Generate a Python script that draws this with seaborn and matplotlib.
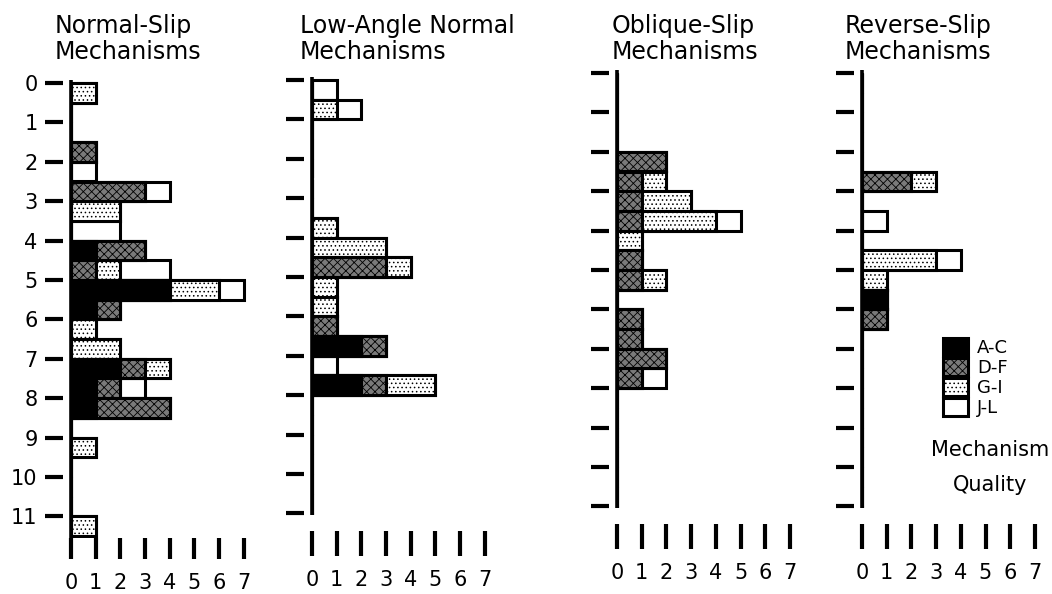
import numpy as np
import pandas as pd
import seaborn as sns
import matplotlib.pyplot as plt
from matplotlib.patches import Patch

sns.set_style("white")
plt.rcParams["font.family"] = ["DejaVu Sans"]
plt.rcParams["hatch.linewidth"] = 0.6
for k in ["text.color", "axes.labelcolor", "xtick.color", "ytick.color"]:
    plt.rcParams[k] = "black"

# depth bins are 0.5 km wide, value = top of bin (km)
# counts per mechanism quality: A-C, D-F, G-I, J-L

# normal-slip
nm_depth = [0.0, 1.5, 2.0, 2.5, 3.0, 3.5, 4.0, 4.5, 5.0, 5.5, 6.0, 6.5, 7.0, 7.5, 8.0, 9.0, 11.0]
nm_ac = [0, 0, 0, 0, 0, 0, 1, 0, 4, 1, 0, 0, 2, 1, 1, 0, 0]
nm_df = [0, 1, 0, 3, 0, 0, 2, 1, 0, 1, 0, 0, 1, 1, 3, 0, 0]
nm_gi = [1, 0, 0, 0, 2, 0, 0, 1, 2, 0, 1, 2, 1, 0, 0, 1, 1]
nm_jl = [0, 0, 1, 1, 0, 2, 0, 2, 1, 0, 0, 0, 0, 1, 0, 0, 0]

# low-angle normal
la_depth = [0.0, 0.5, 3.5, 4.0, 4.5, 5.0, 5.5, 6.0, 6.5, 7.0, 7.5]
la_ac = [0, 0, 0, 0, 0, 0, 0, 0, 2, 0, 2]
la_df = [0, 0, 0, 0, 3, 0, 0, 1, 1, 0, 1]
la_gi = [0, 1, 1, 3, 1, 1, 1, 0, 0, 0, 2]
la_jl = [1, 1, 0, 0, 0, 0, 0, 0, 0, 1, 0]

# oblique-slip
ob_depth = [2.0, 2.5, 3.0, 3.5, 4.0, 4.5, 5.0, 6.0, 6.5, 7.0, 7.5]
ob_ac = [0, 0, 0, 0, 0, 0, 0, 0, 0, 0, 0]
ob_df = [2, 1, 1, 1, 0, 1, 1, 1, 1, 2, 1]
ob_gi = [0, 1, 2, 3, 1, 0, 1, 0, 0, 0, 0]
ob_jl = [0, 0, 0, 1, 0, 0, 0, 0, 0, 0, 1]

# reverse-slip
rv_depth = [2.5, 3.5, 4.5, 5.0, 5.5, 6.0]
rv_ac = [0, 0, 0, 0, 1, 0]
rv_df = [2, 0, 0, 0, 0, 1]
rv_gi = [1, 0, 3, 1, 0, 0]
rv_jl = [0, 1, 1, 0, 0, 0]

titles = ["Normal-Slip\nMechanisms", "Low-Angle Normal\nMechanisms",
          "Oblique-Slip\nMechanisms", "Reverse-Slip\nMechanisms"]
quality = ["A-C", "D-F", "G-I", "J-L"]
depth_ticks = list(range(12))
count_ticks = list(range(8))

panels = [
    (nm_depth, nm_ac, nm_df, nm_gi, nm_jl),
    (la_depth, la_ac, la_df, la_gi, la_jl),
    (ob_depth, ob_ac, ob_df, ob_gi, ob_jl),
    (rv_depth, rv_ac, rv_df, rv_gi, rv_jl),
]

# styles (face, hatch) for each quality class
styles = {
    "A-C": ("black", None),
    "D-F": ("#7a7a7a", "xxxx"),
    "G-I": ("white", "...."),
    "J-L": ("white", None),
}

W, H = 1052, 594
PX_KM = 39.4
PX_UNIT = 24.7
XMAX = 7.4

# left px, px of depth 0, bottom depth, spine bottom depth, ruler offset/length (pt)
layout = [
    dict(left=71, top0=83, ybot=11.55, sbot=12.05, r_off=0, r_len=15, title_x=55),
    dict(left=312, top0=80, ybot=11.05, sbot=11.05, r_off=11, r_len=18, title_x=300),
    dict(left=617, top0=73, ybot=11.05, sbot=11.05, r_off=11, r_len=18, title_x=612),
    dict(left=862, top0=73, ybot=11.05, sbot=11.05, r_off=11, r_len=18, title_x=845),
]

fig = plt.figure(figsize=(W / 100, H / 100), dpi=100)
grid = np.arange(0, 11.5, 0.5)

for i, (lay, data) in enumerate(zip(layout, panels)):
    depth, ac, df_, gi, jl = data
    top_px = lay["top0"] - 0.05 * PX_KM
    bot_px = lay["top0"] + lay["ybot"] * PX_KM
    ax = fig.add_axes([lay["left"] / W, 1 - bot_px / H,
                       XMAX * PX_UNIT / W, (bot_px - top_px) / H])

    d = pd.DataFrame({"top": depth, "A-C": ac, "D-F": df_, "G-I": gi, "J-L": jl})
    d = d.set_index("top").reindex(grid, fill_value=0).reset_index()
    d["depth"] = d["top"] + 0.25
    cum = d[quality].cumsum(axis=1)

    # overlay cumulative bars from the longest to the shortest
    for q in reversed(quality):
        fc, hatch = styles[q]
        sns.barplot(x=cum[q], y=d["depth"], orient="h", native_scale=True,
                    width=1.0, color=fc, hatch=hatch, edgecolor="black",
                    linewidth=2.2, saturation=1, errorbar=None, ax=ax)

    ax.set_xlim(0, XMAX)
    ax.set_ylim(lay["ybot"], -0.05)
    ax.set_xlabel("")
    ax.set_ylabel("")
    for s in ax.spines.values():
        s.set_visible(False)

    # drawn axis line
    ax.plot([0, 0], [-0.08, lay["sbot"]], color="black", lw=2.6,
            clip_on=False, solid_capstyle="butt")

    ax.spines["left"].set_position(("outward", 6))
    ax.set_yticks(depth_ticks)
    ax.tick_params(axis="y", direction="out", length=13, width=3, pad=5,
                   labelsize=15, left=True, labelleft=(i == 0))

    ax.spines["bottom"].set_position(("outward", lay["r_off"]))
    ax.set_xticks(count_ticks)
    ax.tick_params(axis="x", direction="out", length=lay["r_len"], width=3,
                   pad=10, labelsize=15, bottom=True)

    fig.text(lay["title_x"] / W, 1 - 14 / H, titles[i], ha="left", va="top",
             fontsize=17, linespacing=1.1)

handles = [Patch(facecolor=styles[q][0], hatch=styles[q][1], edgecolor="black",
                 linewidth=2.2) for q in quality]
fig.legend(handles, quality, loc="upper left",
           bbox_to_anchor=(943 / W, 1 - 338 / H), bbox_transform=fig.transFigure,
           frameon=False, fontsize=13, labelspacing=0.05, handlelength=1.4,
           handleheight=1.15, handletextpad=0.5, borderpad=0, borderaxespad=0)
fig.text(990 / W, 1 - 450 / H, "Mechanism", ha="center", va="center", fontsize=15)
fig.text(990 / W, 1 - 485 / H, "Quality", ha="center", va="center", fontsize=15)

fig.savefig("out.png", dpi=100)
